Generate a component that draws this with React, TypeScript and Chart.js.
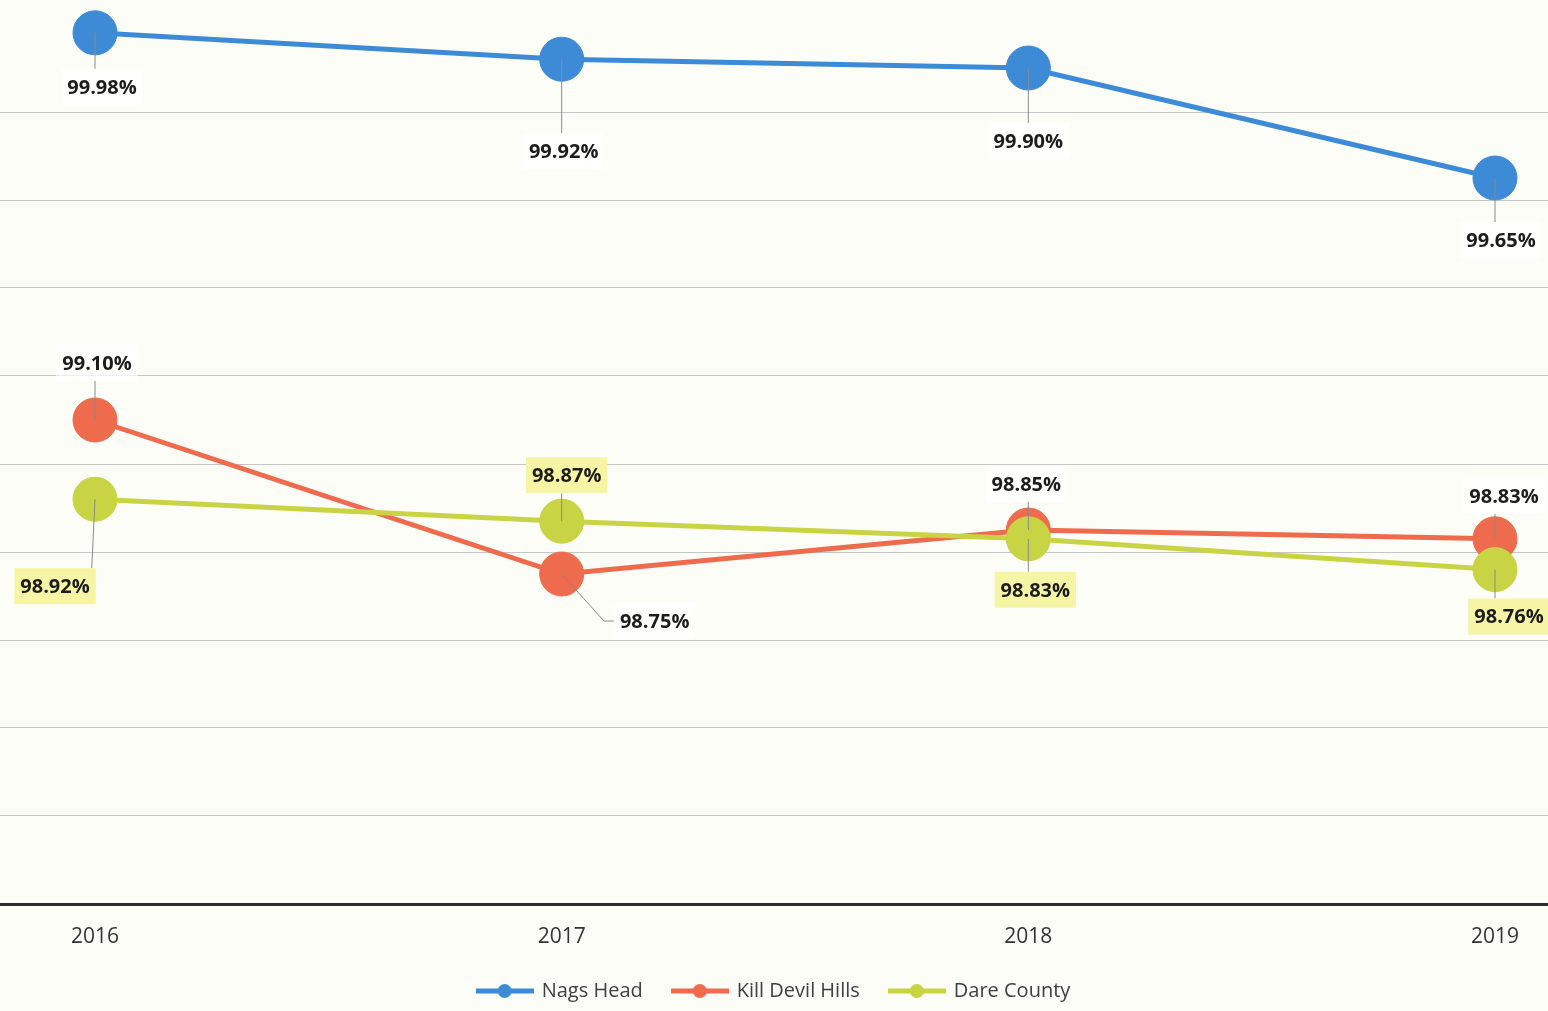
import React, { useEffect, useRef } from 'react';
import { Chart, registerables } from 'chart.js';

Chart.register(...registerables);

const years = ['2016', '2017', '2018', '2019'];
const nagsHead = [99.98, 99.92, 99.9, 99.65];
const killDevilHills = [99.1, 98.75, 98.85, 98.83];
const dareCounty = [98.92, 98.87, 98.83, 98.76];
const seriesNames = ['Nags Head', 'Kill Devil Hills', 'Dare County'];
const seriesValues = [nagsHead, killDevilHills, dareCounty];

const Y_MIN = 98;
const Y_MAX = 100;
const Y_STEP = 0.2;

const COLORS = ['#3d8bd6', '#ee6b4d', '#c9d445'];
const DRAW_ORDER = [2, 1, 0];
const LABEL_BG = ['rgba(255,255,255,0.7)', 'rgba(255,255,255,0.7)', '#f6f5a6'];

// label offsets from the point, in px (styling)
const LABEL_OFFSETS = [
  [[7, 54], [2, 92], [0, 73], [6, 62]],
  [[2, -57], [93, 47], [-2, -46], [9, -43]],
  [[-40, 87], [5, -46], [7, 51], [14, 47]],
];

const FONT = '"Open Sans", "Noto Sans", sans-serif';

function makeLegendMarker(color: string): HTMLCanvasElement {
  const c = document.createElement('canvas');
  c.width = 58;
  c.height = 16;
  const g = c.getContext('2d')!;
  g.strokeStyle = color;
  g.lineWidth = 5;
  g.beginPath();
  g.moveTo(0, 8);
  g.lineTo(58, 8);
  g.stroke();
  g.fillStyle = color;
  g.beginPath();
  g.arc(29, 8, 7, 0, Math.PI * 2);
  g.fill();
  return c;
}

const backgroundPlugin = {
  id: 'pageBg',
  beforeDraw(chart: any) {
    const { ctx, width, height } = chart;
    ctx.save();
    ctx.fillStyle = '#fdfdf8';
    ctx.fillRect(0, 0, width, height);
    ctx.restore();
  },
};

const labelPlugin = {
  id: 'valueLabels',
  afterDatasetsDraw(chart: any) {
    const ctx = chart.ctx;
    ctx.save();
    ctx.font = `bold 20px ${FONT}`;
    ctx.textAlign = 'center';
    ctx.textBaseline = 'middle';
    chart.data.datasets.forEach((ds: any, di: number) => {
      const meta = chart.getDatasetMeta(di);
      meta.data.forEach((pt: any, i: number) => {
        const [dx, dy] = LABEL_OFFSETS[di][i];
        const text = seriesValues[di][i].toFixed(2) + '%';
        const tw = ctx.measureText(text).width;
        const w = tw + 12;
        const h = 36;
        const cx = pt.x + dx;
        const cy = pt.y + dy;
        const left = cx - w / 2;
        const top = cy - h / 2;
        // leader line
        ctx.strokeStyle = '#8a8a8a';
        ctx.lineWidth = 1;
        ctx.beginPath();
        ctx.moveTo(pt.x, pt.y);
        if (Math.abs(dx) > w / 2 && dx > 0 && Math.abs(dy) < 60) {
          ctx.lineTo(left - 10, cy);
          ctx.lineTo(left, cy);
        } else {
          const tx = Math.min(Math.max(pt.x, left + 4), left + w - 4);
          const ty = dy > 0 ? top : top + h;
          ctx.lineTo(tx, ty);
        }
        ctx.stroke();
        // box
        ctx.fillStyle = LABEL_BG[di];
        ctx.fillRect(left, top, w, h);
        ctx.fillStyle = '#1c1c1c';
        ctx.fillText(text, cx, cy + 1);
      });
    });
    ctx.restore();
  },
};

export default function App() {
  const canvasRef = useRef<HTMLCanvasElement | null>(null);

  useEffect(() => {
    const canvas = canvasRef.current;
    if (!canvas) return;
    const markers = COLORS.map(makeLegendMarker);
    const datasets = seriesNames.map((name, si) => ({
      label: name,
      data: years.map((_, i) => ({ x: i, y: seriesValues[si][i] })),
      borderColor: COLORS[si],
      backgroundColor: COLORS[si],
      borderWidth: 5,
      pointRadius: 22,
      pointHoverRadius: 22,
      pointBorderWidth: 1,
      pointBorderColor: COLORS[si],
      pointBackgroundColor: COLORS[si],
      order: DRAW_ORDER[si],
      tension: 0,
      clip: false,
    }));

    const chart = new Chart(canvas, {
      type: 'line',
      data: { datasets },
      options: {
        animation: false,
        responsive: false,
        events: [],
        layout: { autoPadding: false, padding: { top: 24, left: 0, right: 0, bottom: 0 } },
        scales: {
          x: {
            type: 'linear',
            min: -0.2036,
            max: 3.1136,
            afterBuildTicks: (scale: any) => {
              scale.ticks = years.map((_, i) => ({ value: i }));
            },
            afterFit: (scale: any) => {
              scale.height = 47;
              scale.paddingLeft = 0;
              scale.paddingRight = 0;
            },
            ticks: {
              callback: (v: any) => years[Math.round(Number(v))] ?? '',
              font: { family: FONT, size: 21 },
              color: '#333333',
              padding: 20,
              autoSkip: false,
              maxRotation: 0,
            },
            grid: { display: false, drawTicks: false },
            border: { display: true, color: '#2b2b2b', width: 3 },
          },
          y: {
            type: 'linear',
            min: Y_MIN,
            max: Y_MAX,
            ticks: { display: false, stepSize: Y_STEP },
            afterFit: (scale: any) => {
              scale.width = 0;
            },
            grid: {
              drawTicks: false,
              lineWidth: 1,
              color: (c: any) => {
                const v = c.tick ? c.tick.value : 0;
                if (v >= Y_MAX - 0.01 || v <= Y_MIN + 0.01) return 'rgba(0,0,0,0)';
                return '#c6c6c6';
              },
            },
            border: { display: false },
          },
        },
        plugins: {
          tooltip: { enabled: false },
          legend: {
            display: true,
            position: 'bottom',
            labels: {
              usePointStyle: true,
              pointStyleWidth: 54,
              padding: 30,
              color: '#404040',
              font: { family: FONT, size: 20 },
              generateLabels: () =>
                seriesNames.map((name, si) => ({
                  text: name,
                  pointStyle: markers[si],
                  fillStyle: COLORS[si],
                  strokeStyle: COLORS[si],
                  lineWidth: 0,
                  hidden: false,
                  datasetIndex: si,
                  fontColor: '#404040',
                })),
            },
          },
        },
      },
      plugins: [backgroundPlugin, labelPlugin],
    } as any);

    return () => {
      chart.destroy();
    };
  }, []);

  return (
    <div style={{ position: 'fixed', left: 0, top: 0, width: 1548, height: 1011, background: '#fdfdf8' }}>
      <canvas ref={canvasRef} width={1548} height={1011} style={{ display: 'block' }} />
    </div>
  );
}
